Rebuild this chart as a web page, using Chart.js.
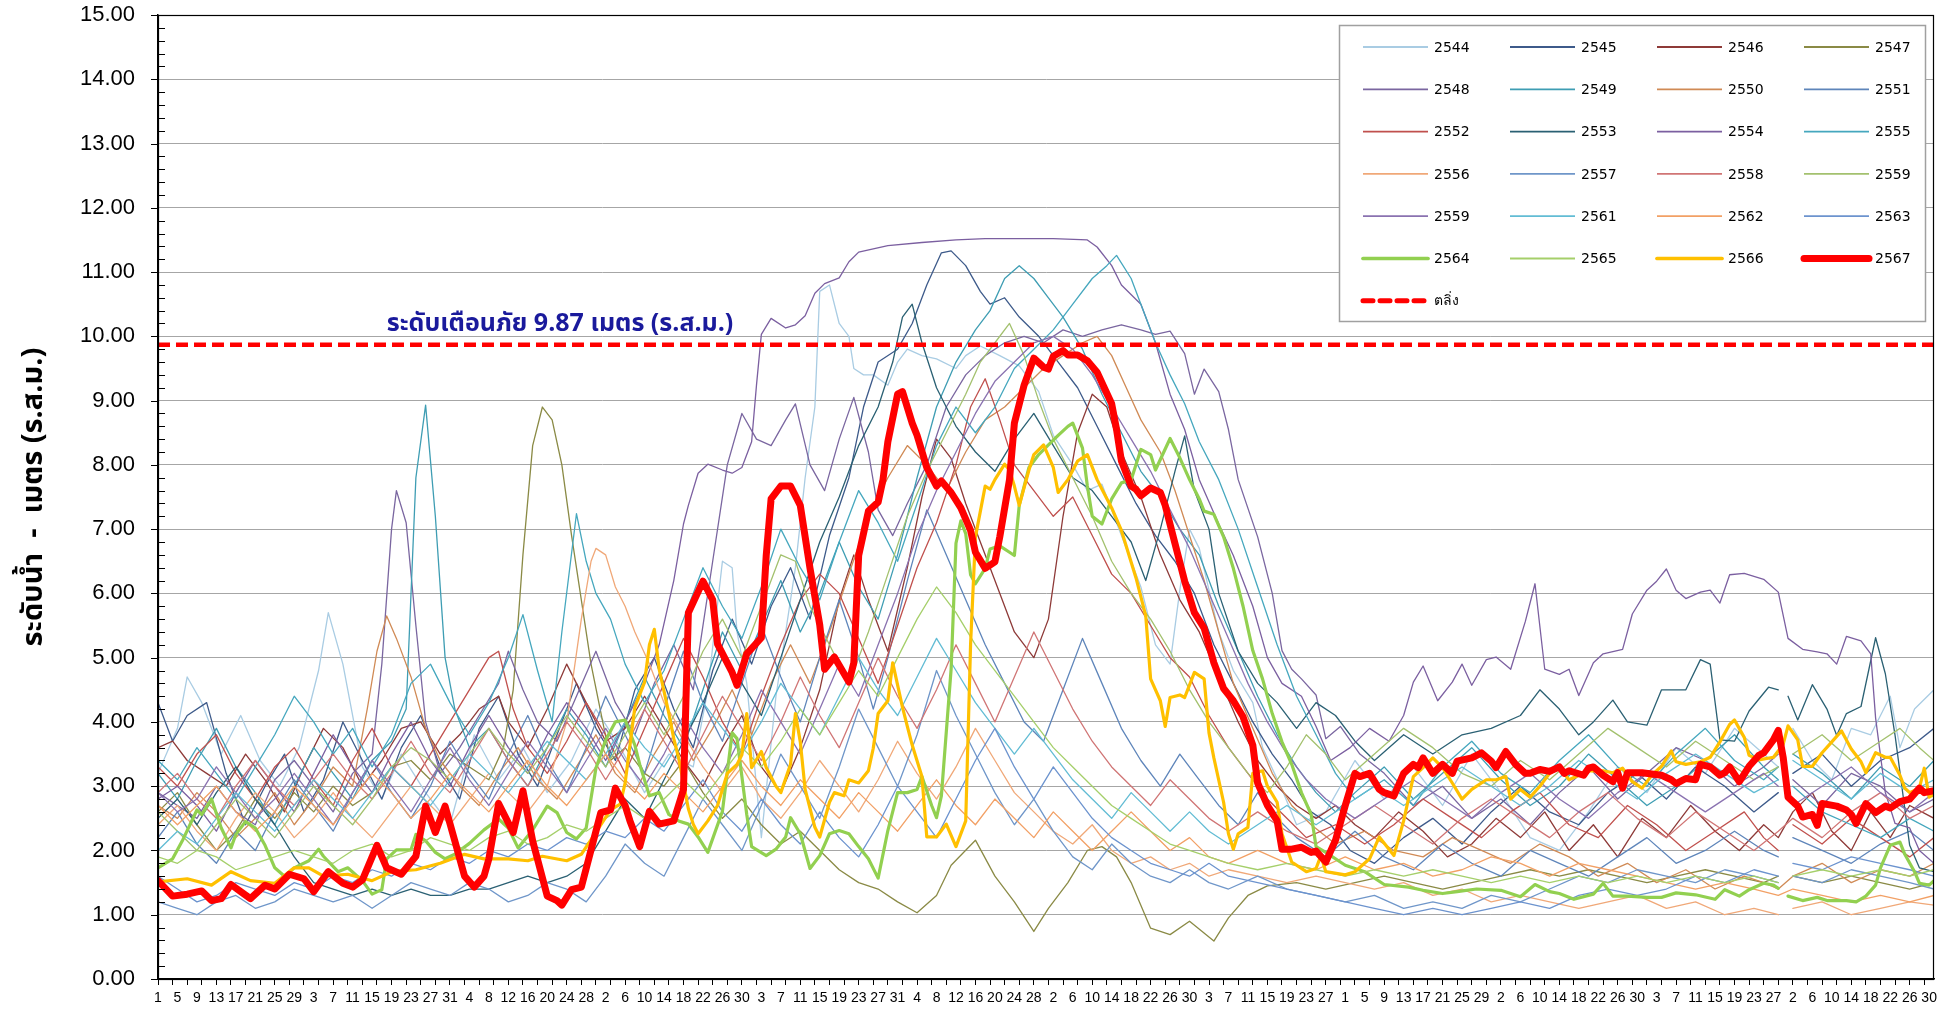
<!DOCTYPE html>
<html><head><meta charset="utf-8">
<script src="https://cdn.jsdelivr.net/npm/chart.js@4.4.1/dist/chart.umd.min.js"></script>
<style>html,body{margin:0;padding:0;background:#fff;}canvas{display:block;}</style>
</head><body>
<canvas id="c" width="1953" height="1012"></canvas>
<script>
// ---- categories / tick labels (water year April..March) ----
const monthDays = [30,31,30,31,31,30,31,30,31,31,29,31];
const dayLabels = [];
monthDays.forEach(n => { for (let d = 1; d <= n; d++) dayLabels.push(String(d)); });
const yTicks = [0,1,2,3,4,5,6,7,8,9,10,11,12,13,14,15];
const bankLevel = 9.87;
const bankLabel = 'ตลิ่ง';
const warnText = 'ระดับเตือนภัย 9.87 เมตร (ร.ส.ม.)';
const yTitle = 'ระดับน้ำ  -  เมตร (ร.ส.ม.)';
const febGapDay = 334;

// ---- series values: [day index, water level] ----
const s2544 = [[0,3.2],[4,3.9],[6,4.7],[9,4.3],[13,3.5],[17,4.1],[21,3.4],[25,3.0],[29,3.6],[33,4.8],[35,5.7],[38,4.9],[42,3.3],[46,2.8],[50,3.5],[55,2.9],[60,2.4],[65,3.8],[70,3.1],[75,3.6],[80,2.9],[85,3.4],[90,4.2],[95,3.6],[100,2.9],[105,3.5],[110,3.3],[113,4.5],[116,6.5],[118,6.4],[119,5.4],[121,4.6],[124,2.2],[127,4.4],[131,6.4],[133,7.8],[135,8.9],[136,10.7],[138,10.8],[140,10.2],[142,10.0],[143,9.5],[145,9.4],[147,9.4],[150,9.24],[152,9.6],[154,9.8],[157,9.7],[160,9.65],[164,9.5],[166,9.7],[169,9.85],[173,9.7],[177,9.54],[181,9.14],[184,8.46],[188,8.0],[191,7.6],[194,7.7],[198,6.9],[202,6.1],[205,5.2],[208,4.9],[210,6.05],[212,7.0],[214,6.7],[218,5.4],[221,4.8],[225,4.3],[227,3.6],[231,2.95],[234,2.4],[240,2.6],[246,3.4],[252,2.8],[258,3.3],[264,2.7],[270,3.5],[276,2.9],[282,2.2],[288,2.0],[294,2.6],[300,3.3],[306,2.9],[312,3.6],[318,3.2],[324,3.9],[330,3.5],[333,3.3],[336,3.9],[340,3.4],[344,3.1],[348,3.9],[352,3.8],[356,4.4],[358,3.6],[361,4.2],[365,4.5]];
const s2545 = [[0,4.3],[3,3.7],[6,4.1],[10,4.3],[14,3.2],[18,2.4],[22,3.0],[26,3.5],[30,2.6],[34,3.1],[38,4.0],[42,3.4],[46,2.8],[50,3.6],[54,4.1],[58,3.3],[62,2.8],[66,3.9],[70,4.4],[74,3.5],[78,3.0],[82,3.8],[86,4.6],[90,3.9],[94,3.4],[98,4.5],[102,5.0],[106,4.2],[110,3.6],[114,4.8],[118,5.6],[122,4.9],[126,5.8],[130,6.4],[134,5.6],[138,6.9],[142,7.8],[145,8.9],[148,9.6],[152,9.8],[155,10.2],[158,10.8],[161,11.3],[163,11.33],[166,11.1],[169,10.7],[171,10.5],[174,10.6],[177,10.3],[181,10.0],[185,9.6],[189,9.2],[193,8.6],[197,8.0],[201,7.4],[205,6.9],[209,6.5],[213,6.0],[217,5.2],[221,4.6],[225,4.0],[229,3.5],[233,3.1],[237,2.6],[241,2.4],[245,2.0],[250,1.8],[256,2.2],[262,2.5],[268,2.1],[274,2.6],[280,3.0],[286,2.6],[292,2.4],[298,2.9],[304,3.2],[310,2.8],[316,3.3],[322,3.0],[328,2.6],[333,2.9],[336,3.2],[342,3.5],[348,3.0],[354,3.4],[360,3.6],[365,3.9]];
const s2546 = [[0,3.6],[3,3.7],[6,3.4],[10,3.2],[14,3.0],[18,3.5],[22,3.1],[26,2.6],[30,3.3],[34,3.9],[38,3.6],[42,3.0],[46,3.4],[50,3.9],[54,4.0],[58,3.5],[62,3.8],[66,4.2],[70,4.4],[72,4.0],[76,3.6],[80,4.2],[84,4.9],[88,4.3],[92,3.7],[96,3.9],[100,4.4],[104,3.9],[108,3.4],[112,3.0],[116,3.6],[120,4.1],[124,3.3],[128,2.9],[132,3.6],[136,4.5],[140,5.9],[143,6.6],[146,5.9],[150,5.1],[154,6.4],[157,7.5],[160,8.4],[163,8.1],[166,7.4],[169,6.8],[172,6.2],[176,5.4],[180,5.0],[183,5.6],[186,7.2],[189,8.5],[192,9.1],[195,8.9],[198,8.2],[202,7.5],[206,6.6],[210,5.9],[214,5.4],[218,4.7],[222,4.0],[226,3.4],[230,3.0],[234,2.7],[238,2.5],[242,2.7],[246,2.4],[250,2.2],[255,2.6],[260,2.3],[265,1.9],[270,2.1],[275,2.5],[280,2.2],[285,2.6],[290,2.0],[295,2.4],[300,1.9],[305,2.5],[310,2.2],[315,2.7],[320,2.3],[325,2.0],[330,2.4],[333,2.2],[336,2.6],[340,2.9],[344,2.3],[348,2.0],[352,2.6],[356,2.2],[360,2.7],[365,2.5]];
const s2547 = [[0,2.6],[4,2.9],[8,2.4],[12,2.0],[16,2.3],[20,2.8],[24,2.5],[28,2.9],[32,2.6],[36,3.0],[40,2.7],[44,2.9],[48,3.3],[52,3.4],[56,3.1],[60,3.5],[64,3.3],[68,3.1],[71,3.6],[73,4.5],[75,6.6],[77,8.3],[79,8.9],[81,8.7],[83,8.0],[85,6.9],[87,5.9],[89,4.9],[93,3.4],[96,3.6],[100,3.2],[104,3.0],[108,3.4],[112,2.9],[116,2.5],[120,2.8],[124,2.4],[128,2.1],[132,2.3],[136,2.0],[140,1.7],[144,1.5],[148,1.4],[152,1.2],[156,1.03],[160,1.3],[163,1.77],[168,2.16],[172,1.6],[176,1.2],[180,0.74],[183,1.1],[187,1.5],[191,2.0],[194,2.06],[197,1.9],[200,1.5],[204,0.79],[208,0.69],[212,0.9],[217,0.59],[220,0.95],[224,1.3],[228,1.45],[234,1.5],[240,1.4],[246,1.5],[252,1.6],[258,1.5],[264,1.4],[270,1.5],[276,1.6],[282,1.7],[288,1.6],[294,1.7],[300,1.6],[306,1.5],[312,1.6],[318,1.7],[324,1.6],[330,1.5],[333,1.6],[336,1.6],[342,1.5],[348,1.6],[354,1.5],[360,1.4],[365,1.5]];
const s2548 = [[0,2.9],[4,2.7],[8,2.5],[12,3.0],[16,2.6],[20,2.4],[24,3.1],[28,3.4],[32,3.0],[36,2.6],[40,3.2],[44,3.5],[46,4.9],[48,7.0],[49,7.6],[51,7.1],[53,5.5],[55,4.0],[58,3.2],[62,3.6],[66,4.1],[70,4.6],[72,5.1],[75,4.5],[78,4.0],[82,3.7],[86,4.4],[90,5.1],[94,4.3],[98,3.8],[102,4.6],[106,5.2],[110,4.5],[114,6.5],[117,8.0],[120,8.8],[123,8.4],[126,8.3],[129,8.7],[131,8.95],[134,8.0],[137,7.6],[140,8.4],[143,9.05],[146,8.2],[148,7.3],[151,6.9],[154,7.4],[158,8.0],[162,8.9],[166,9.4],[170,9.7],[174,9.9],[178,10.0],[182,9.9],[186,10.1],[190,10.0],[194,10.1],[198,10.18],[202,10.1],[205,10.03],[208,10.08],[211,9.73],[213,9.1],[215,9.49],[218,9.14],[220,8.55],[222,7.77],[226,6.88],[229,6.0],[231,5.11],[233,4.82],[235,4.67],[238,4.42],[240,3.74],[243,3.93],[247,3.5],[252,3.2],[258,2.7],[264,3.0],[270,2.5],[276,2.8],[282,2.4],[288,2.9],[294,3.3],[300,2.8],[306,3.2],[312,3.6],[318,3.4],[324,3.0],[330,3.3],[333,3.5],[336,3.1],[342,2.7],[348,3.2],[354,3.0],[360,2.6],[365,2.8]];
const s2549 = [[0,3.2],[4,2.8],[8,3.4],[12,3.9],[16,3.3],[20,2.9],[24,2.4],[28,3.0],[32,3.6],[36,3.2],[40,2.8],[44,3.4],[48,3.7],[51,4.2],[53,7.8],[55,8.93],[57,7.2],[59,5.0],[61,4.2],[64,3.6],[68,3.9],[72,3.4],[76,3.0],[80,3.6],[84,4.2],[88,3.8],[92,3.3],[96,4.0],[100,4.7],[104,4.1],[108,3.6],[112,4.5],[116,5.4],[120,4.8],[124,5.5],[128,6.2],[132,5.4],[136,6.0],[140,6.8],[144,6.1],[148,5.6],[152,6.6],[156,7.8],[160,8.9],[164,9.6],[168,10.1],[171,10.4],[174,10.9],[177,11.1],[180,10.9],[183,10.6],[186,10.3],[190,9.8],[194,9.1],[198,8.5],[202,7.9],[206,7.5],[210,7.0],[214,6.6],[218,5.8],[222,5.1],[226,4.4],[230,3.8],[234,3.3],[238,2.9],[242,2.6],[246,2.9],[252,3.3],[258,2.8],[264,3.2],[270,3.6],[276,3.1],[282,2.7],[288,3.0],[294,3.5],[300,3.1],[306,2.7],[312,3.0],[318,3.4],[324,3.8],[330,3.3],[333,3.1],[336,3.5],[342,3.2],[348,2.8],[354,3.3],[360,3.0],[365,3.4]];
const s2550 = [[0,2.7],[4,2.5],[8,2.9],[12,2.6],[16,2.2],[20,2.5],[24,2.9],[28,2.4],[32,2.8],[36,3.3],[40,3.0],[43,4.2],[45,5.1],[47,5.65],[49,5.3],[52,4.7],[55,3.9],[58,3.4],[62,3.0],[66,2.7],[70,3.2],[74,3.6],[78,3.1],[82,2.8],[86,3.3],[90,3.8],[94,3.2],[98,2.9],[102,3.5],[106,4.0],[110,3.4],[114,3.9],[118,4.5],[122,3.8],[126,4.6],[130,5.2],[134,4.6],[138,5.4],[142,6.3],[146,7.2],[150,7.8],[154,8.3],[158,8.0],[162,7.6],[166,8.2],[170,8.7],[174,8.9],[178,9.2],[182,9.5],[186,9.7],[190,9.9],[193,10.0],[196,9.7],[199,9.2],[202,8.7],[206,8.2],[209,7.6],[212,6.9],[215,6.2],[218,5.4],[221,4.6],[225,3.9],[229,3.2],[233,2.7],[237,2.4],[242,2.1],[248,2.3],[254,2.0],[260,1.9],[266,2.2],[272,2.0],[278,1.8],[284,2.1],[290,1.9],[296,1.6],[302,1.8],[308,1.5],[314,1.7],[320,1.4],[326,1.6],[330,1.5],[333,1.4],[336,1.6],[342,1.8],[348,1.5],[354,1.7],[360,1.6],[365,1.8]];
const s2551 = [[0,2.2],[4,2.6],[8,2.1],[12,1.8],[16,2.3],[20,2.0],[24,2.6],[28,3.1],[32,2.7],[36,2.3],[40,2.9],[44,3.4],[48,2.9],[52,2.5],[56,3.0],[60,3.7],[64,3.2],[68,2.8],[72,3.5],[76,4.1],[80,3.4],[84,2.9],[88,3.6],[92,4.4],[96,3.8],[100,3.2],[104,4.2],[108,5.1],[112,4.3],[116,3.7],[120,4.6],[124,5.5],[128,4.7],[132,4.0],[136,5.0],[140,5.9],[144,5.0],[147,4.2],[150,5.0],[154,6.2],[158,7.3],[162,6.6],[166,5.9],[170,5.2],[174,4.6],[178,4.0],[182,3.7],[186,4.5],[190,5.3],[194,4.6],[198,3.9],[202,3.4],[206,3.0],[210,3.5],[214,3.1],[218,2.7],[222,2.4],[226,2.9],[230,2.5],[234,2.2],[240,1.9],[246,2.3],[252,1.9],[258,1.7],[264,2.1],[270,1.8],[276,1.6],[282,2.0],[288,1.8],[294,1.6],[300,1.9],[306,2.2],[312,1.8],[318,2.0],[324,2.3],[330,2.0],[333,1.9],[336,2.2],[342,2.0],[348,1.8],[354,2.1],[360,2.3],[365,2.0]];
const s2552 = [[0,3.3],[4,3.0],[8,3.5],[12,3.8],[16,3.2],[20,2.8],[24,3.3],[28,3.6],[32,3.1],[36,2.7],[40,3.4],[44,3.9],[48,3.3],[52,3.0],[56,3.5],[60,4.0],[64,4.5],[68,5.0],[70,5.1],[73,4.2],[76,3.6],[80,3.2],[84,3.7],[88,4.3],[92,3.8],[96,3.2],[100,3.9],[104,4.6],[108,5.3],[112,4.7],[116,4.0],[120,3.5],[124,4.4],[128,5.2],[132,5.9],[136,6.3],[140,6.0],[144,5.3],[148,4.6],[152,5.5],[156,6.4],[160,7.1],[164,8.0],[167,8.9],[170,9.34],[173,8.7],[176,8.0],[180,7.6],[184,7.2],[188,7.5],[192,6.9],[196,6.3],[200,6.0],[204,5.5],[208,5.0],[212,4.7],[216,4.1],[220,3.6],[224,3.2],[228,2.8],[232,2.5],[236,2.2],[242,2.4],[248,2.1],[254,2.4],[260,2.8],[266,2.5],[272,2.2],[278,2.6],[284,2.9],[290,2.4],[296,2.2],[302,2.7],[308,2.4],[314,2.0],[320,2.3],[326,2.6],[330,2.2],[333,2.0],[336,2.4],[342,2.1],[348,2.5],[354,2.2],[360,1.9],[365,2.2]];
const s2553 = [[0,2.5],[4,2.8],[8,2.4],[12,2.9],[16,3.3],[20,2.8],[24,2.4],[28,1.9],[32,1.5],[36,1.4],[40,1.3],[44,1.4],[48,1.3],[52,1.4],[56,1.3],[60,1.3],[64,1.4],[68,1.4],[72,1.5],[76,1.6],[80,1.5],[84,1.6],[88,1.8],[92,2.3],[96,2.8],[100,2.5],[104,3.1],[108,3.7],[112,4.3],[116,5.0],[120,4.6],[124,4.1],[128,5.0],[132,5.9],[136,6.8],[140,7.5],[144,8.3],[148,8.9],[151,9.6],[153,10.3],[155,10.5],[157,9.9],[160,9.2],[164,8.6],[168,8.2],[172,7.9],[176,8.4],[180,8.8],[184,8.3],[188,7.8],[192,7.6],[196,7.2],[200,6.8],[203,6.2],[206,7.0],[209,7.9],[211,8.45],[213,7.6],[216,7.0],[218,6.0],[222,5.1],[226,4.6],[230,4.3],[234,3.9],[238,4.3],[242,4.1],[246,3.7],[250,3.4],[256,3.8],[262,3.5],[268,3.8],[274,3.9],[280,4.1],[284,4.5],[288,4.2],[292,3.8],[295,4.0],[299,4.34],[302,4.0],[306,3.95],[309,4.5],[314,4.5],[317,4.97],[319,4.9],[321,3.72],[324,3.7],[327,4.17],[331,4.54],[333,4.5],[335,4.4],[337,4.03],[340,4.58],[343,4.2],[345,3.79],[347,4.13],[350,4.24],[353,5.31],[355,4.75],[357,3.79],[360,2.08],[362,1.73],[365,1.67]];
const s2554 = [[0,2.8],[4,3.0],[8,2.7],[12,2.3],[16,2.9],[20,3.4],[24,3.0],[28,2.6],[32,3.2],[36,3.8],[40,3.3],[44,2.9],[48,3.5],[52,4.0],[56,3.4],[60,3.0],[64,3.6],[68,4.1],[72,3.6],[76,3.2],[80,3.8],[84,4.3],[88,3.9],[92,3.4],[96,4.0],[100,4.6],[103,5.2],[106,6.2],[108,7.08],[109,7.37],[111,7.87],[113,8.01],[116,7.92],[118,7.87],[120,7.96],[122,8.36],[123,9.24],[124,10.03],[126,10.28],[129,10.13],[131,10.18],[133,10.32],[135,10.67],[137,10.82],[140,10.91],[142,11.16],[144,11.31],[150,11.41],[157,11.46],[164,11.5],[170,11.52],[177,11.52],[184,11.52],[191,11.5],[193,11.39],[196,11.1],[198,10.8],[202,10.5],[205,9.9],[208,9.1],[211,8.55],[214,7.77],[218,7.08],[221,6.59],[225,5.8],[228,5.0],[231,4.6],[235,4.4],[238,3.93],[241,3.4],[245,3.6],[249,3.9],[253,3.7],[256,4.1],[258,4.62],[260,4.87],[263,4.33],[266,4.62],[268,4.9],[270,4.57],[273,4.97],[275,5.01],[278,4.82],[281,5.56],[283,6.15],[285,4.82],[288,4.74],[290,4.82],[292,4.41],[295,4.92],[297,5.06],[301,5.13],[303,5.68],[306,6.05],[308,6.19],[310,6.38],[312,6.05],[314,5.92],[317,6.02],[319,6.05],[321,5.85],[323,6.29],[326,6.31],[330,6.22],[333,6.02],[335,5.30],[338,5.13],[341,5.09],[343,5.06],[345,4.90],[347,5.33],[350,5.26],[352,5.06],[353,4.06],[355,2.90],[357,2.42],[360,2.35],[362,2.0],[365,1.8]];
const s2555 = [[0,3.4],[4,3.1],[8,3.6],[12,3.2],[16,2.8],[20,3.3],[24,3.8],[28,4.4],[32,4.0],[36,3.5],[40,3.9],[44,3.3],[48,3.8],[52,4.6],[56,4.9],[60,4.3],[64,3.8],[68,4.3],[72,5.0],[75,5.67],[78,4.8],[81,4.0],[83,5.4],[86,7.24],[88,6.5],[90,6.0],[93,5.6],[96,4.9],[100,4.3],[104,4.8],[108,5.6],[112,6.4],[116,5.8],[120,5.3],[124,6.1],[128,7.0],[132,6.4],[136,5.9],[140,6.8],[144,7.6],[148,7.1],[152,6.5],[156,7.4],[160,8.3],[164,8.9],[168,8.5],[172,8.9],[176,9.5],[180,9.8],[184,10.1],[188,10.5],[192,10.9],[195,11.1],[197,11.26],[200,10.9],[202,10.5],[205,9.9],[208,9.4],[211,8.95],[214,8.36],[218,7.77],[222,7.0],[226,6.1],[230,5.2],[234,4.4],[238,3.8],[242,3.2],[246,2.8],[252,3.1],[258,2.7],[264,3.3],[270,3.7],[276,3.2],[282,2.9],[288,3.4],[294,3.8],[300,3.3],[306,3.0],[312,3.5],[318,3.9],[324,3.4],[330,3.1],[333,3.3],[336,3.0],[342,2.6],[348,2.4],[354,2.2],[360,2.5],[365,2.3]];
const s2556 = [[0,2.4],[4,2.7],[8,2.3],[12,2.0],[16,2.5],[20,2.9],[24,2.6],[28,2.2],[32,2.5],[36,2.9],[40,2.5],[44,2.2],[48,2.6],[52,3.0],[56,2.7],[60,2.4],[64,2.8],[68,3.2],[72,2.9],[76,2.6],[80,3.0],[84,4.0],[87,5.6],[89,6.5],[90,6.7],[92,6.6],[94,6.1],[96,5.8],[98,5.4],[101,4.9],[104,4.3],[108,3.8],[112,3.3],[116,2.9],[120,3.3],[124,2.8],[128,2.5],[132,2.9],[136,3.4],[140,3.0],[144,2.6],[148,3.1],[152,3.7],[156,3.2],[160,2.8],[164,3.3],[168,3.9],[172,3.4],[176,2.9],[180,2.6],[184,2.3],[188,2.1],[192,2.4],[196,2.0],[200,1.8],[204,1.9],[208,1.7],[212,1.8],[216,1.6],[220,1.7],[226,1.6],[232,1.5],[238,1.6],[244,1.5],[250,1.4],[256,1.5],[262,1.3],[268,1.4],[274,1.2],[280,1.3],[286,1.2],[292,1.1],[298,1.2],[304,1.3],[310,1.1],[316,1.2],[322,1.0],[328,1.1],[333,1.0],[336,1.1],[342,1.2],[348,1.0],[354,1.1],[360,1.2],[365,1.15]];
const s2557 = [[0,1.2],[4,1.1],[8,1.0],[12,1.2],[16,1.3],[20,1.1],[24,1.2],[28,1.4],[32,1.3],[36,1.2],[40,1.3],[44,1.1],[48,1.3],[52,1.5],[56,1.4],[60,1.3],[64,1.5],[68,1.4],[72,1.2],[76,1.3],[80,1.5],[84,1.4],[88,1.2],[92,1.6],[96,2.1],[100,1.8],[104,1.6],[108,2.2],[112,2.8],[116,2.4],[120,2.0],[124,2.7],[128,3.5],[132,3.0],[136,2.5],[140,3.3],[144,4.2],[148,3.6],[152,3.0],[156,3.8],[160,4.8],[164,4.1],[168,3.5],[172,2.9],[176,2.4],[180,2.8],[184,2.3],[188,1.9],[192,1.7],[196,2.1],[200,1.8],[204,1.6],[208,1.5],[212,1.7],[216,1.5],[220,1.4],[226,1.6],[232,1.4],[238,1.3],[244,1.2],[250,1.3],[256,1.1],[262,1.2],[268,1.1],[274,1.3],[280,1.2],[286,1.4],[292,1.6],[298,1.5],[304,1.7],[310,1.6],[316,1.5],[322,1.7],[328,1.6],[333,1.5],[336,1.6],[342,1.5],[348,1.7],[354,1.6],[360,1.5],[365,1.4]];
const s2558 = [[0,2.9],[4,3.2],[8,2.8],[12,2.5],[16,3.0],[20,3.4],[24,3.0],[28,2.7],[32,3.1],[36,3.5],[40,3.1],[44,2.8],[48,3.2],[52,3.7],[56,3.2],[60,2.9],[64,3.4],[68,3.9],[72,3.4],[76,3.0],[80,3.5],[84,4.0],[88,3.6],[92,3.1],[96,3.6],[100,4.2],[104,3.7],[108,3.2],[112,3.8],[116,4.4],[120,3.9],[124,3.4],[128,4.0],[132,4.7],[136,4.1],[140,3.6],[144,4.3],[148,5.0],[152,4.4],[156,3.9],[160,4.5],[164,5.2],[168,4.6],[172,4.0],[176,4.7],[180,5.4],[184,4.8],[188,4.2],[192,3.7],[196,3.3],[200,3.0],[204,2.7],[208,3.1],[212,2.8],[216,2.5],[220,2.3],[226,2.6],[232,2.3],[238,2.1],[244,2.4],[250,2.7],[256,2.4],[262,2.1],[268,2.5],[274,2.8],[280,2.5],[286,2.2],[292,2.6],[298,2.9],[304,2.5],[310,2.2],[316,2.6],[322,2.3],[328,2.0],[333,2.3],[336,2.5],[342,2.2],[348,2.6],[354,2.9],[360,2.5],[365,2.7]];
const s2559 = [[0,2.6],[4,2.3],[8,2.0],[12,2.4],[16,2.8],[20,2.5],[24,2.2],[28,2.6],[32,3.0],[36,2.7],[40,2.4],[44,2.8],[48,3.3],[52,3.6],[56,3.4],[60,3.1],[64,3.5],[68,3.9],[72,3.5],[76,3.2],[80,3.6],[84,4.1],[88,3.7],[92,3.3],[96,3.8],[100,4.3],[104,3.8],[108,4.4],[112,5.1],[116,5.6],[120,5.0],[124,5.8],[128,6.6],[131,6.5],[134,5.8],[138,5.2],[142,4.6],[146,5.4],[150,6.3],[154,7.2],[158,7.9],[162,8.5],[166,9.1],[169,9.6],[172,9.9],[175,10.2],[178,9.7],[181,9.0],[184,8.4],[188,7.8],[192,7.2],[196,6.5],[200,6.0],[204,5.6],[208,5.1],[212,4.5],[216,4.0],[220,3.6],[224,3.2],[228,2.9],[232,3.3],[236,3.8],[240,3.5],[244,3.1],[250,3.5],[256,3.9],[262,3.6],[268,3.2],[274,3.0],[280,3.4],[286,3.1],[292,3.5],[298,3.9],[304,3.6],[310,3.3],[316,3.7],[322,3.4],[328,3.1],[333,3.3],[336,3.5],[342,3.8],[348,3.4],[354,3.7],[358,3.9],[362,3.6],[365,3.4]];
const s2559b = [[0,2.9],[4,2.6],[8,2.8],[12,3.3],[16,2.9],[20,2.5],[24,2.8],[28,3.2],[32,2.8],[36,2.4],[40,2.9],[44,3.4],[48,3.0],[52,2.6],[56,3.1],[60,3.6],[64,3.1],[68,2.7],[72,3.2],[76,3.7],[80,3.3],[84,2.9],[88,3.4],[92,3.9],[96,3.4],[100,3.0],[104,3.5],[108,4.1],[112,3.6],[116,3.2],[120,3.8],[124,4.5],[128,4.0],[132,3.5],[136,4.2],[140,4.9],[144,4.4],[148,5.2],[152,6.0],[156,6.9],[160,7.6],[164,8.2],[168,8.8],[172,9.3],[176,9.6],[180,9.9],[184,10.0],[188,9.8],[192,9.4],[196,8.9],[200,8.4],[204,7.9],[208,7.3],[212,6.7],[216,6.0],[220,5.3],[224,4.6],[228,4.0],[232,3.5],[236,3.1],[240,2.8],[246,2.5],[252,2.8],[258,3.1],[264,2.8],[270,2.5],[276,2.9],[282,3.2],[288,2.8],[294,2.5],[300,2.9],[306,3.2],[312,2.9],[318,2.6],[324,2.9],[330,3.2],[333,3.0],[336,2.7],[342,3.0],[348,3.3],[354,2.9],[360,2.6],[365,2.9]];
const s2561 = [[0,2.0],[4,2.3],[8,2.1],[12,2.5],[16,2.9],[20,2.6],[24,2.3],[28,2.7],[32,3.1],[36,2.8],[40,2.5],[44,2.9],[48,3.3],[52,3.0],[56,2.7],[60,3.1],[64,3.5],[68,3.2],[72,2.9],[76,3.3],[80,3.7],[84,3.4],[88,3.1],[92,3.5],[96,4.0],[100,3.6],[104,3.3],[108,3.8],[112,4.3],[116,3.9],[120,3.5],[124,4.0],[128,4.6],[132,4.2],[136,3.8],[140,4.4],[144,5.0],[148,4.5],[152,4.1],[156,4.7],[160,5.3],[164,4.8],[168,4.3],[172,3.9],[176,3.5],[180,3.9],[184,3.5],[188,3.1],[192,2.8],[196,2.5],[200,2.9],[204,2.6],[208,2.3],[212,2.6],[216,2.3],[220,2.1],[226,2.4],[232,2.7],[238,2.4],[244,2.7],[250,3.0],[256,2.7],[262,3.0],[268,3.3],[274,3.0],[280,2.7],[286,3.0],[292,3.4],[298,3.1],[304,2.8],[310,3.2],[316,3.5],[322,3.2],[328,2.9],[333,3.1],[336,3.4],[342,3.1],[348,2.8],[354,3.2],[360,2.9],[365,3.1]];
const s2562 = [[0,2.7],[4,2.4],[8,2.7],[12,3.0],[16,2.6],[20,2.3],[24,2.6],[28,3.0],[32,2.7],[36,2.4],[40,2.8],[44,3.2],[48,2.9],[52,2.5],[56,2.8],[60,3.2],[64,2.9],[68,2.6],[72,3.0],[76,3.4],[80,3.0],[84,2.7],[88,3.1],[92,3.5],[96,3.1],[100,2.8],[104,3.2],[108,2.9],[112,2.6],[116,3.0],[120,3.4],[124,3.0],[128,2.7],[132,3.1],[136,2.8],[140,2.5],[144,2.9],[148,2.6],[152,2.3],[156,2.7],[160,3.1],[164,2.7],[168,2.4],[172,2.8],[176,2.5],[180,2.2],[184,2.6],[188,2.3],[192,2.0],[196,2.3],[200,2.6],[204,2.3],[208,2.0],[212,2.2],[216,1.9],[220,1.8],[226,2.0],[232,1.8],[238,1.7],[244,1.9],[250,1.7],[256,1.8],[262,1.6],[268,1.7],[274,1.9],[280,1.8],[286,1.6],[292,1.8],[298,1.7],[304,1.6],[310,1.5],[316,1.4],[322,1.5],[328,1.4],[333,1.3],[336,1.4],[342,1.3],[348,1.2],[354,1.3],[360,1.2],[365,1.3]];
const s2563 = [[0,1.6],[4,1.4],[8,1.2],[12,1.3],[16,1.5],[20,1.4],[24,1.3],[28,1.5],[32,1.4],[36,1.6],[40,1.5],[44,1.7],[48,1.6],[52,1.8],[56,1.7],[60,1.9],[64,1.8],[68,2.0],[72,1.9],[76,2.1],[80,2.0],[84,2.2],[88,2.1],[92,2.3],[96,2.2],[100,2.5],[104,2.3],[108,2.7],[112,3.1],[116,2.6],[120,2.3],[124,2.8],[128,2.4],[132,2.1],[136,2.6],[140,2.2],[144,1.9],[148,2.4],[152,3.0],[156,2.6],[160,2.2],[164,2.8],[168,3.4],[172,3.9],[176,3.3],[180,2.8],[184,3.3],[188,2.9],[192,2.5],[196,2.2],[200,2.0],[204,1.8],[208,1.7],[212,1.6],[216,1.8],[220,1.6],[226,1.5],[232,1.4],[238,1.3],[244,1.2],[250,1.1],[256,1.0],[262,1.1],[268,1.0],[274,1.1],[280,1.2],[286,1.1],[292,1.3],[298,1.4],[304,1.3],[310,1.4],[316,1.6],[322,1.5],[328,1.7],[333,1.6],[336,1.8],[342,1.7],[348,1.9],[354,1.8],[360,1.7],[365,1.6]];
const s2564 = [[0,1.73],[3,1.87],[5,2.15],[8,2.63],[9,2.56],[11,2.80],[13,2.35],[15,2.04],[16,2.25],[18,2.45],[20,2.35],[22,2.08],[24,1.73],[26,1.60],[28,1.73],[31,1.84],[33,2.02],[34,1.91],[37,1.67],[39,1.73],[42,1.53],[44,1.32],[46,1.39],[47,1.87],[49,2.01],[52,2.01],[53,2.25],[55,2.15],[57,1.97],[59,1.87],[61,1.94],[64,2.11],[67,2.32],[70,2.49],[72,2.35],[74,2.04],[77,2.32],[80,2.69],[82,2.59],[84,2.28],[86,2.18],[88,2.35],[90,3.28],[92,3.72],[94,4.00],[96,4.03],[98,3.64],[99,3.34],[101,2.85],[103,2.90],[105,2.56],[107,2.46],[109,2.41],[111,2.21],[113,1.97],[116,2.61],[118,3.83],[119,3.74],[121,2.56],[122,2.06],[125,1.92],[127,2.02],[129,2.21],[130,2.51],[132,2.26],[134,1.72],[136,1.92],[138,2.26],[140,2.31],[142,2.26],[144,2.06],[146,1.87],[148,1.57],[150,2.31],[152,2.90],[154,2.90],[156,2.95],[157,3.15],[159,2.70],[160,2.51],[161,2.85],[163,4.82],[164,6.78],[165,7.13],[166,6.93],[167,6.29],[168,6.15],[170,6.39],[171,6.69],[173,6.74],[175,6.64],[176,6.59],[177,7.37],[179,7.96],[181,8.16],[183,8.31],[185,8.46],[187,8.60],[188,8.65],[190,8.26],[191,7.67],[192,7.2],[194,7.08],[196,7.47],[198,7.72],[200,7.77],[202,8.24],[204,8.16],[205,7.92],[208,8.41],[210,8.11],[212,7.77],[214,7.47],[215,7.28],[217,7.23],[219,6.88],[221,6.39],[223,5.80],[225,5.11],[227,4.67],[229,4.13],[231,3.69],[233,3.34],[235,2.90],[237,2.56],[238,2.06],[240,1.97],[244,1.77],[248,1.67],[252,1.47],[257,1.43],[260,1.38],[264,1.33],[267,1.36],[271,1.40],[276,1.38],[280,1.28],[283,1.47],[286,1.36],[288,1.33],[291,1.24],[295,1.32],[297,1.49],[299,1.29],[302,1.29],[306,1.27],[309,1.27],[312,1.34],[316,1.31],[320,1.24],[322,1.39],[325,1.29],[327,1.39],[330,1.49],[332,1.46],[333,1.41],[335,1.29],[338,1.22],[341,1.27],[343,1.22],[347,1.22],[349,1.20],[351,1.29],[353,1.46],[354,1.73],[356,2.08],[358,2.13],[359,1.94],[361,1.67],[362,1.49],[364,1.46],[365,1.53]];
const s2565 = [[0,1.9],[4,1.8],[8,2.0],[12,1.9],[16,1.7],[20,1.8],[24,1.9],[28,2.0],[32,1.9],[36,1.8],[40,2.0],[44,2.1],[48,1.9],[52,2.0],[56,2.2],[60,2.1],[64,2.0],[68,2.2],[72,2.3],[76,2.1],[80,2.2],[84,2.4],[88,2.3],[92,2.5],[96,2.7],[100,2.5],[104,2.8],[108,3.1],[112,2.8],[116,3.2],[120,3.6],[124,3.3],[128,3.7],[132,4.2],[136,3.8],[140,4.3],[144,4.8],[148,4.4],[152,5.0],[156,5.6],[160,6.1],[164,5.7],[168,5.2],[172,4.8],[176,4.4],[180,4.0],[184,3.6],[188,3.3],[192,3.0],[196,2.7],[200,2.5],[204,2.3],[208,2.1],[212,2.0],[216,1.9],[220,1.8],[226,1.7],[232,1.8],[238,1.7],[244,1.6],[250,1.7],[256,1.6],[262,1.7],[268,1.6],[274,1.5],[280,1.6],[286,1.5],[292,1.6],[298,1.5],[304,1.6],[310,1.5],[316,1.6],[322,1.5],[328,1.6],[333,1.5],[336,1.6],[342,1.7],[348,1.6],[354,1.7],[360,1.6],[365,1.7]];
const s2566 = [[0,1.51],[6,1.56],[11,1.46],[15,1.67],[19,1.53],[24,1.49],[28,1.73],[31,1.73],[34,1.60],[39,1.63],[44,1.53],[48,1.67],[53,1.70],[58,1.80],[63,1.94],[67,1.87],[72,1.87],[76,1.84],[79,1.91],[84,1.84],[87,1.94],[90,2.28],[93,2.63],[95,2.72],[96,3.05],[98,4.23],[100,4.62],[101,5.2],[102,5.44],[103,4.82],[105,4.13],[106,3.74],[107,3.44],[109,2.65],[110,2.41],[111,2.26],[113,2.46],[115,2.70],[117,3.20],[119,3.34],[120,3.49],[121,4.13],[122,3.29],[124,3.54],[125,3.29],[127,3.00],[128,2.90],[130,3.34],[131,4.13],[132,3.69],[133,2.95],[135,2.36],[136,2.21],[138,2.75],[139,2.90],[141,2.85],[142,3.10],[144,3.05],[146,3.24],[147,3.59],[148,4.13],[150,4.33],[151,4.92],[153,4.23],[154,3.93],[155,3.64],[157,3.15],[158,2.21],[160,2.21],[162,2.41],[164,2.06],[166,2.46],[167,5.21],[168,6.88],[170,7.67],[171,7.62],[172,7.77],[174,8.01],[175,7.92],[176,7.67],[177,7.37],[179,7.92],[180,8.16],[182,8.31],[184,7.96],[185,7.57],[187,7.77],[189,8.06],[191,8.16],[193,7.77],[194,7.62],[196,7.33],[198,6.98],[201,6.24],[203,5.65],[204,4.67],[206,4.33],[207,3.93],[208,4.38],[210,4.42],[211,4.38],[213,4.77],[215,4.67],[216,3.83],[217,3.44],[219,2.75],[220,2.26],[221,2.02],[222,2.26],[224,2.36],[225,3.20],[227,3.24],[228,3.00],[230,2.75],[231,2.26],[233,1.82],[236,1.67],[238,1.72],[239,1.92],[240,1.67],[244,1.62],[246,1.67],[249,1.87],[251,2.21],[254,1.92],[256,2.46],[258,3.15],[260,3.29],[262,3.44],[264,3.29],[266,3.05],[268,2.80],[270,2.95],[273,3.10],[275,3.10],[277,3.15],[278,2.80],[280,2.95],[282,2.83],[284,3.00],[286,3.20],[288,3.29],[290,3.10],[292,3.17],[294,3.24],[297,3.24],[299,3.21],[301,3.28],[303,3.07],[305,2.97],[307,3.17],[309,3.31],[311,3.55],[312,3.38],[314,3.34],[317,3.38],[319,3.45],[321,3.69],[323,3.96],[324,4.03],[326,3.76],[327,3.48],[329,3.41],[332,3.45],[334,3.65],[335,3.94],[337,3.72],[338,3.31],[340,3.31],[342,3.52],[344,3.69],[346,3.86],[348,3.58],[350,3.38],[351,3.21],[353,3.52],[355,3.45],[356,3.45],[358,3.17],[359,2.97],[360,2.90],[362,2.97],[363,3.28],[364,2.83],[365,2.87]];
const s2567 = [[0,1.53],[3,1.29],[6,1.32],[9,1.37],[11,1.22],[13,1.25],[15,1.47],[17,1.36],[19,1.25],[22,1.46],[24,1.40],[27,1.63],[30,1.56],[32,1.36],[35,1.67],[38,1.49],[40,1.43],[42,1.54],[45,2.08],[47,1.73],[50,1.63],[53,1.91],[55,2.69],[57,2.28],[59,2.69],[61,2.15],[63,1.60],[65,1.43],[67,1.60],[68,1.87],[70,2.73],[73,2.28],[75,2.93],[77,2.15],[80,1.29],[82,1.22],[83,1.15],[85,1.39],[87,1.43],[89,2.01],[91,2.59],[93,2.63],[94,2.97],[96,2.70],[97,2.46],[99,2.06],[101,2.61],[103,2.41],[106,2.46],[108,2.95],[109,5.70],[112,6.19],[114,5.90],[115,5.21],[118,4.77],[119,4.57],[121,5.06],[124,5.31],[125,6.59],[126,7.47],[128,7.67],[130,7.67],[132,7.37],[134,6.39],[136,5.51],[137,4.82],[139,5.01],[142,4.62],[143,4.92],[144,6.59],[146,7.28],[148,7.42],[149,7.77],[150,8.36],[152,9.10],[153,9.14],[155,8.65],[156,8.46],[158,7.96],[160,7.67],[161,7.75],[163,7.57],[165,7.33],[167,6.98],[168,6.64],[170,6.39],[172,6.49],[173,6.88],[175,7.77],[176,8.65],[178,9.24],[180,9.66],[182,9.52],[183,9.49],[184,9.69],[186,9.78],[187,9.71],[189,9.71],[191,9.62],[193,9.44],[196,8.95],[197,8.55],[198,8.06],[200,7.67],[201,7.62],[202,7.52],[204,7.64],[206,7.57],[207,7.37],[209,6.78],[211,6.19],[213,5.70],[215,5.46],[217,4.92],[219,4.52],[221,4.33],[223,4.08],[225,3.64],[226,3.05],[228,2.70],[230,2.46],[231,2.02],[233,2.02],[235,2.05],[237,1.97],[238,1.99],[240,1.82],[242,2.16],[244,2.70],[246,3.20],[247,3.15],[249,3.20],[251,2.95],[252,2.90],[254,2.85],[256,3.20],[258,3.34],[259,3.29],[260,3.44],[262,3.20],[264,3.34],[266,3.20],[267,3.39],[270,3.44],[272,3.52],[274,3.39],[275,3.29],[277,3.54],[279,3.34],[281,3.20],[282,3.20],[284,3.26],[286,3.23],[288,3.30],[289,3.20],[290,3.24],[293,3.17],[294,3.28],[295,3.30],[297,3.17],[299,3.07],[300,3.21],[301,2.97],[302,3.21],[305,3.21],[307,3.19],[309,3.17],[311,3.10],[312,3.04],[314,3.12],[316,3.10],[317,3.34],[319,3.30],[321,3.17],[322,3.21],[323,3.30],[325,3.07],[327,3.31],[329,3.48],[330,3.52],[332,3.72],[333,3.87],[334,3.45],[335,2.83],[337,2.69],[338,2.52],[340,2.56],[341,2.39],[342,2.73],[345,2.69],[347,2.63],[348,2.56],[349,2.42],[351,2.73],[353,2.59],[355,2.69],[356,2.66],[358,2.76],[360,2.80],[362,2.97],[363,2.90],[365,2.93]];

// ---- series table (label, values, colour, width, has Feb-29 break) ----
const seriesTable = [
  ['2544', s2544, '#A9CCE3', 1.3, true],
  ['2545', s2545, '#3D5A8A', 1.3, true],
  ['2546', s2546, '#8E3A38', 1.3, false],
  ['2547', s2547, '#8A8A45', 1.3, true],
  ['2548', s2548, '#7A66A0', 1.3, true],
  ['2549', s2549, '#3E9DB3', 1.3, true],
  ['2550', s2550, '#D08A55', 1.3, false],
  ['2551', s2551, '#5E85BA', 1.3, true],
  ['2552', s2552, '#C0504D', 1.3, true],
  ['2553', s2553, '#2A6073', 1.3, true],
  ['2554', s2554, '#7B5FA0', 1.3, false],
  ['2555', s2555, '#45A7BE', 1.3, true],
  ['2556', s2556, '#F0A878', 1.3, true],
  ['2557', s2557, '#6F96C9', 1.3, true],
  ['2558', s2558, '#D07575', 1.3, false],
  ['2559', s2559, '#A3C16E', 1.3, true],
  ['2559', s2559b, '#8A72B0', 1.3, true],
  ['2561', s2561, '#62BCD4', 1.3, true],
  ['2562', s2562, '#F2A065', 1.3, false],
  ['2563', s2563, '#6C93CE', 1.3, true],
  ['2564', s2564, '#92D050', 3.2, true],
  ['2565', s2565, '#A5CF6A', 1.3, true],
  ['2566', s2566, '#FFC000', 3.2, false],
  ['2567', s2567, '#FF0000', 7, false]
];

function toPoints(pairs, brk) {
  const out = [];
  for (let i = 0; i < pairs.length; i++) {
    if (brk && i > 0 && pairs[i-1][0] < febGapDay && pairs[i][0] > febGapDay) out.push({x: febGapDay, y: null});
    out.push({x: pairs[i][0], y: pairs[i][1]});
  }
  return out;
}

const datasets = seriesTable.map((s, i) => ({
  label: s[0], data: toPoints(s[1], s[4]), borderColor: s[2], backgroundColor: s[2],
  borderWidth: s[3], pointRadius: 0, tension: 0, fill: false, spanGaps: false,
  borderJoinStyle: 'round', borderCapStyle: 'round', order: 100 - i
}));
datasets.push({
  label: bankLabel, data: [{x: 0, y: bankLevel}, {x: dayLabels.length - 1, y: bankLevel}],
  borderColor: '#FF0000', backgroundColor: '#FF0000', borderWidth: 4.5, borderDash: [12, 6],
  pointRadius: 0, fill: false, order: 0
});

const decor = {
  id: 'decor',
  afterDatasetsDraw(chart) {
    const ctx = chart.ctx, ca = chart.chartArea, xs = chart.scales.x, ys = chart.scales.y;
    ctx.save();
    // plot frame
    ctx.strokeStyle = '#000'; ctx.lineWidth = 1.2;
    ctx.strokeRect(ca.left + 0.5, ca.top + 0.5, ca.right - ca.left - 1, ca.bottom - ca.top);
    // y ticks: major outside, minor inside
    ctx.lineWidth = 1;
    for (let k = 0; k <= 75; k++) {
      const y = Math.round(ys.getPixelForValue(k / 5)) + 0.5;
      ctx.beginPath();
      if (k % 5 === 0) { ctx.moveTo(ca.left - 7, y); ctx.lineTo(ca.left, y); }
      else { ctx.moveTo(ca.left, y); ctx.lineTo(ca.left + 7, y); }
      ctx.stroke();
    }
    // warning label
    ctx.fillStyle = '#1A1A9C';
    ctx.font = 'bold 25px "Noto Sans Thai", Tahoma, "DejaVu Sans", sans-serif';
    ctx.textBaseline = 'alphabetic'; ctx.textAlign = 'left';
    ctx.fillText(warnText, xs.getPixelForValue(47), ys.getPixelForValue(bankLevel) - 14);
    // legend box
    const bx = ca.right - 595, by = ca.top + 10, bw = 586, bh = 296;
    ctx.fillStyle = '#FFFFFF'; ctx.fillRect(bx, by, bw, bh);
    ctx.strokeStyle = '#A0A0A0'; ctx.lineWidth = 1.5; ctx.strokeRect(bx + 0.5, by + 0.5, bw, bh);
    ctx.font = '14px "DejaVu Sans", sans-serif'; ctx.textBaseline = 'middle';
    chart.data.datasets.forEach((ds, i) => {
      const col = i % 4, row = Math.floor(i / 4);
      const x0 = bx + 21 + col * 147, y0 = by + 22 + row * 42.3;
      ctx.save();
      ctx.strokeStyle = ds.borderColor;
      ctx.lineWidth = ds.borderDash ? 5 : Math.min(ds.borderWidth + 0.5, 7);
      ctx.lineCap = (ds.borderWidth > 3) ? 'round' : 'butt';
      if (ds.borderDash) { ctx.setLineDash([10, 7]); ctx.lineCap = 'round'; }
      ctx.beginPath(); ctx.moveTo(x0 + 3, y0); ctx.lineTo(x0 + 68, y0); ctx.stroke();
      ctx.restore();
      ctx.fillStyle = '#000';
      ctx.fillText(ds.label, x0 + 74, y0 + 1);
    });
    ctx.restore();
  },
  afterDraw(chart) {
    const ctx = chart.ctx, ca = chart.chartArea;
    ctx.save();
    ctx.translate(36, (ca.top + ca.bottom) / 2);
    ctx.rotate(-Math.PI / 2);
    ctx.fillStyle = '#000';
    ctx.font = 'bold 29px "Noto Sans Thai", Tahoma, "DejaVu Sans", sans-serif';
    ctx.textAlign = 'center'; ctx.textBaseline = 'middle';
    ctx.fillText(yTitle, 0, 0);
    ctx.restore();
  }
};

new Chart(document.getElementById('c'), {
  type: 'line',
  data: { datasets },
  plugins: [decor],
  options: {
    responsive: false, animation: false, devicePixelRatio: 1,
    layout: { autoPadding: false, padding: { left: 0, right: 19, top: 15, bottom: 0 } },
    plugins: { legend: { display: false }, tooltip: { enabled: false } },
    scales: {
      x: {
        type: 'linear', min: 0, max: dayLabels.length - 1,
        afterFit: s => { s.height = 33; },
        ticks: {
          stepSize: 1, autoSkip: false, maxRotation: 0, minRotation: 0, padding: 5,
          color: '#000', font: { family: '"Liberation Sans", sans-serif', size: 14 },
          callback: v => (Number.isInteger(v) && v % 4 === 0 ? dayLabels[v] : '')
        },
        grid: {
          drawOnChartArea: false, drawTicks: true, tickLength: 6, tickWidth: 1,
          tickColor: c => (c.tick && c.tick.value % 3 === 0 ? '#000' : 'rgba(0,0,0,0)')
        },
        border: { display: true, color: '#000', width: 1.5 }
      },
      y: {
        min: yTicks[0], max: yTicks[yTicks.length - 1],
        afterFit: s => { s.width = 158; },
        afterBuildTicks: s => { s.ticks = yTicks.map(v => ({ value: v })); },
        ticks: {
          padding: 0, color: '#000',
          font: { family: '"Liberation Sans", sans-serif', size: 22 },
          callback: v => Number(v).toFixed(2)
        },
        grid: { color: '#A6A6A6', lineWidth: 1, tickLength: 23, tickColor: 'rgba(0,0,0,0)' },
        border: { display: true, color: '#000', width: 1.5 }
      }
    }
  }
});
</script>
</body></html>
